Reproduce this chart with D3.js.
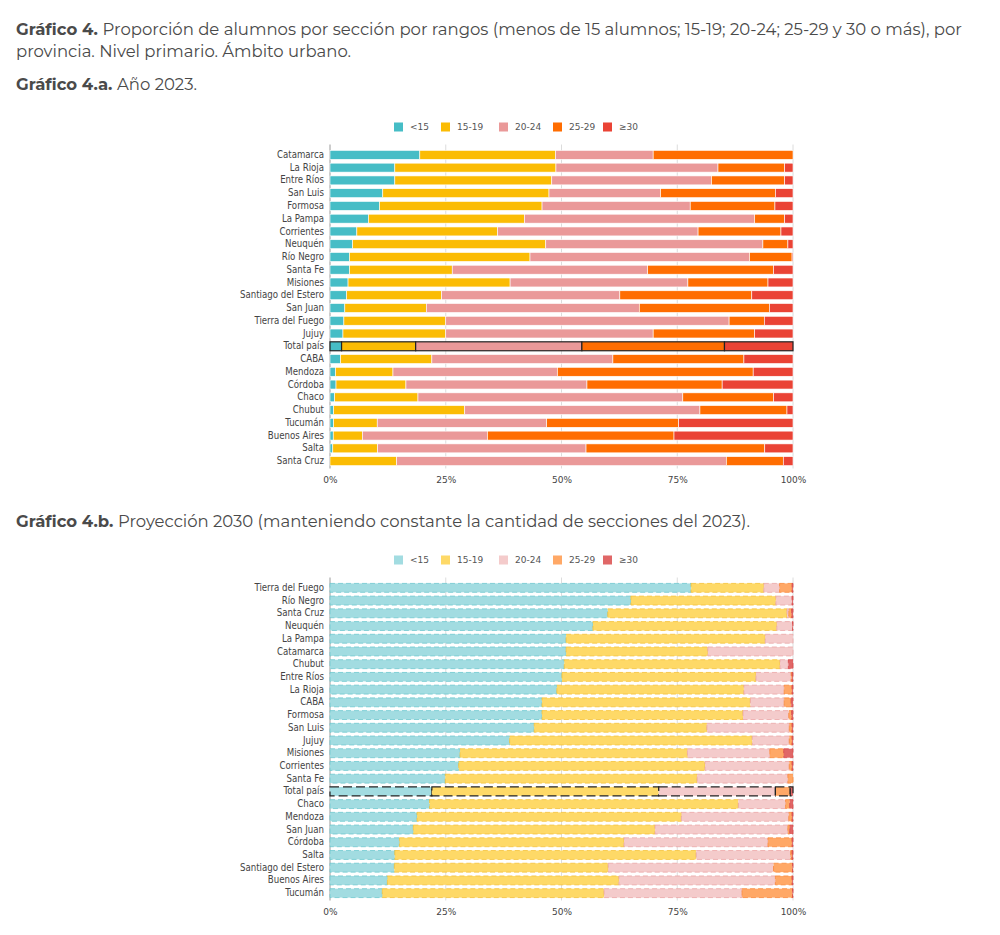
<!DOCTYPE html>
<html><head><meta charset="utf-8">
<script src="https://cdn.jsdelivr.net/npm/d3@7"></script>
<style>
body{margin:0;background:#fff;}
svg{display:block;}
</style></head>
<body>
<svg id="c" width="1000" height="935"></svg>
<script>
// ---------- DATA ----------
const rangos = ["<15", "15-19", "20-24", "25-29", "≥30"];
const ticksPct = [0, 0.25, 0.5, 0.75, 1];

const provA = ["Catamarca","La Rioja","Entre Ríos","San Luis","Formosa","La Pampa","Corrientes","Neuquén","Río Negro","Santa Fe","Misiones","Santiago del Estero","San Juan","Tierra del Fuego","Jujuy","Total país","CABA","Mendoza","Córdoba","Chaco","Chubut","Tucumán","Buenos Aires","Salta","Santa Cruz"];
const a_lt15 = [19.4,14.0,14.0,11.4,10.7,8.3,5.8,4.9,4.2,4.2,3.9,3.6,3.2,3.0,2.8,2.5,2.3,1.2,1.3,1.0,0.8,0.8,0.7,0.6,0.0];
const a_15_19 = [29.3,34.8,33.9,35.9,35.1,33.7,30.4,41.7,39.0,22.2,35.0,20.5,17.6,22.0,22.2,16.0,19.7,12.4,15.1,18.0,28.3,9.4,6.3,9.7,14.4];
const a_20_24 = [21.1,35.0,34.5,24.1,32.0,49.7,43.3,46.9,47.4,42.2,38.4,38.5,46.0,61.2,44.8,35.9,39.1,35.5,39.1,57.2,50.8,36.6,27.0,45.0,71.2];
const a_25_29 = [30.2,14.4,15.8,24.8,18.3,6.5,17.9,5.4,9.2,27.2,17.3,28.5,28.1,7.6,21.9,30.8,28.3,42.3,29.2,19.6,18.8,28.5,40.3,38.6,12.3];
const a_ge30 = [0.0,1.8,1.8,3.8,3.9,1.8,2.6,1.1,0.2,4.2,5.4,8.9,5.1,6.2,8.3,14.8,10.6,8.6,15.3,4.2,1.3,24.7,25.7,6.1,2.1];

const provB = ["Tierra del Fuego","Río Negro","Santa Cruz","Neuquén","La Pampa","Catamarca","Chubut","Entre Ríos","La Rioja","CABA","Formosa","San Luis","Jujuy","Misiones","Corrientes","Santa Fe","Total país","Chaco","Mendoza","San Juan","Córdoba","Salta","Santiago del Estero","Buenos Aires","Tucumán"];
const b_lt15 = [78.0,65.0,60.0,56.8,51.0,51.0,50.6,50.1,49.0,45.8,45.8,44.1,38.8,28.1,27.8,24.9,22.0,21.5,18.8,18.0,15.0,14.0,13.9,12.4,11.3];
const b_15_19 = [15.7,31.3,38.7,39.7,43.0,30.6,46.6,41.9,40.4,45.0,43.4,37.3,52.4,49.1,53.2,54.4,49.0,66.7,57.1,52.2,48.5,65.1,46.2,50.0,47.9];
const b_20_24 = [3.4,3.5,0.4,3.4,6.0,18.4,1.8,7.6,8.7,7.3,9.9,17.8,8.0,17.8,18.2,19.6,25.2,10.2,23.2,28.7,31.1,20.4,35.7,33.8,29.8];
const b_25_29 = [2.7,0.0,0.6,0.0,0.0,0.0,0.0,0.2,1.7,1.5,0.6,0.6,0.6,3.0,0.6,1.1,3.2,0.9,0.7,0.4,5.2,0.3,4.1,3.6,10.9];
const b_ge30 = [0.2,0.2,0.3,0.1,0.0,0.0,1.0,0.2,0.2,0.4,0.3,0.2,0.2,2.0,0.2,0.0,0.6,0.7,0.2,0.7,0.2,0.2,0.1,0.2,0.1];

const colorsA = ["#46bdc6","#fbbc04","#ea9999","#ff6d01","#ea4335"];
const colorsB = ["#a2dce1","#fed967","#f4cbcb","#ffa866","#e06767"];
const strokesB = ["#6fc8cf","#f5c23a","#eba6a6","#fb8a3c","#d94a4a"];

// ---------- DRAW ----------
const svg = d3.select("#c");
const TXT = "#4a4a4a";
const TF = "Montserrat, 'Open Sans', Lato, sans-serif";

function title(y, bold, rest, len) {
  const t = svg.append("text").attr("x", 16).attr("y", y)
    .attr("font-family", TF).attr("font-size", 16.5).attr("fill", TXT);
  if (bold) t.append("tspan").attr("font-weight", 700).text(bold);
  t.append("tspan").text(rest);
  if (len) t.attr("textLength", len).attr("lengthAdjust", "spacingAndGlyphs");
}
title(35, "Gráfico 4. ", "Proporción de alumnos por sección por rangos (menos de 15 alumnos; 15-19; 20-24; 25-29 y 30 o más), por", 946);
title(57, null, "provincia. Nivel primario. Ámbito urbano.", 335);
title(90, "Gráfico 4.a. ", "Año 2023.", 181);
title(527, "Gráfico 4.b. ", "Proyección 2030 (manteniendo constante la cantidad de secciones del 2023).", 734);

function chart(opts) {
  const {prov, series, colors, strokes, top, bottom, legendY, dashed} = opts;
  const x = d3.scaleLinear().domain([0, 1]).range([330, 793]);
  const y = d3.scaleBand().domain(prov).range([top, bottom]).paddingInner(0.3).paddingOuter(0.15);
  const g = svg.append("g");

  // legend
  const lx = [394, 441, 499, 553, 603];
  rangos.forEach((r, i) => {
    g.append("rect").attr("x", lx[i]).attr("y", legendY - 4.5).attr("width", 9).attr("height", 9).attr("fill", colors[i]);
    g.append("text").attr("x", lx[i] + 16).attr("y", legendY).attr("dy", "0.35em")
      .attr("font-family", "'DejaVu Sans', Verdana, sans-serif").attr("font-size", 9).attr("fill", "#555").text(r);
  });

  // grid
  g.append("g").selectAll("line").data(ticksPct).join("line")
    .attr("x1", d => x(d)).attr("x2", d => x(d))
    .attr("y1", top - 4).attr("y2", bottom + 1)
    .attr("stroke", (d, i) => i === 0 ? "#9a9a9a" : "#dcdcdc").attr("stroke-width", 1);

  // data table
  const rows = prov.map((p, i) => {
    const o = {prov: p};
    rangos.forEach((r, k) => o[r] = series[k][i]);
    return o;
  });
  const stack = d3.stack().keys(rangos).offset(d3.stackOffsetExpand)(rows);

  stack.forEach((layer, k) => {
    g.append("g").selectAll("rect").data(layer).join("rect")
      .attr("x", d => x(d[0]))
      .attr("y", d => y(d.data.prov))
      .attr("width", d => Math.max(0, x(d[1]) - x(d[0])))
      .attr("height", y.bandwidth())
      .attr("fill", colors[k])
      .attr("stroke", d => {
        if (d.data.prov === "Total país") return "#222";
        return dashed ? strokes[k] : "#fff";
      })
      .attr("stroke-width", d => d.data.prov === "Total país" ? 1.2 : (dashed ? 1 : 0.6))
      .attr("stroke-dasharray", d => dashed ? (d.data.prov === "Total país" ? "9,4" : "5,3") : null)
      .attr("stroke-opacity", d => (dashed && d.data.prov !== "Total país") ? 0.8 : 1)
      .filter(d => x(d[1]) - x(d[0]) <= 0).remove();
  });

  // y axis labels
  const ya = d3.axisLeft(y).tickSize(0).tickPadding(6);
  const yg = g.append("g").attr("transform", "translate(330,0)").call(ya);
  yg.select(".domain").remove();
  yg.selectAll("text").attr("font-family", "'DejaVu Sans Condensed', 'DejaVu Sans', sans-serif")
    .attr("font-size", 9.6).attr("fill", "#444");

  // x axis
  const xa = d3.axisBottom(x).tickValues(ticksPct).tickFormat(d3.format(".0%")).tickSize(0).tickPadding(8);
  const xg = g.append("g").attr("transform", `translate(0,${bottom + 1})`).call(xa);
  xg.select(".domain").remove();
  xg.selectAll("text").attr("font-family", "'DejaVu Sans', Verdana, sans-serif")
    .attr("font-size", 9).attr("fill", "#444");
}

chart({prov: provA, series: [a_lt15, a_15_19, a_20_24, a_25_29, a_ge30], colors: colorsA,
  top: 148.5, bottom: 467.5, legendY: 127, dashed: false});
chart({prov: provB, series: [b_lt15, b_15_19, b_20_24, b_25_29, b_ge30], colors: colorsB, strokes: strokesB,
  top: 581.5, bottom: 899.5, legendY: 560, dashed: true});
</script>
</body></html>
